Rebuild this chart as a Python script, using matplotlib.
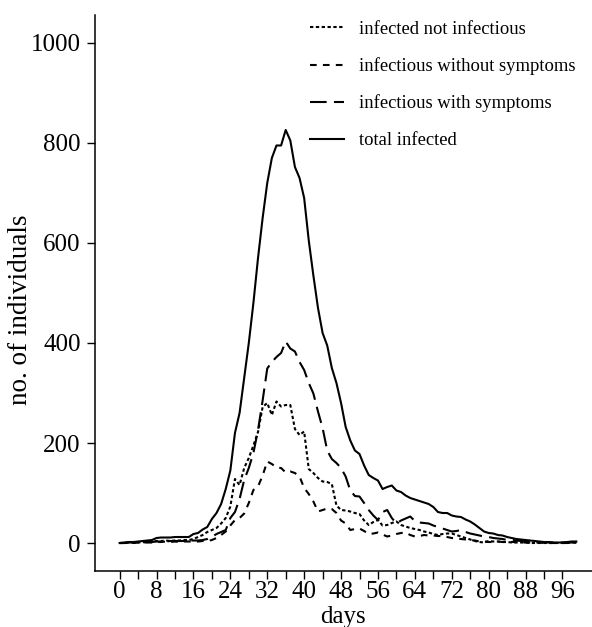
import matplotlib
matplotlib.use("Agg")
import matplotlib.pyplot as plt
import numpy as np

days = list(range(0, 100))

infected_not_infectious = [
    0, 0, 1, 1, 1, 2, 2, 3, 4, 4,
    5, 4, 5, 5, 6, 6, 8, 12, 16, 22,
    26, 30, 39, 50, 73, 128, 116, 150, 170, 195,
    222, 272, 280, 256, 283, 273, 276, 276, 228, 216,
    223, 148, 140, 130, 123, 122, 118, 75, 66, 65,
    63, 60, 58, 45, 36, 42, 46, 35, 36, 40,
    43, 36, 33, 30, 28, 26, 23, 21, 18, 16,
    18, 19, 19, 16, 13, 10, 7, 4, 2, 1,
    4, 3, 3, 2, 2, 1, 1, 1, 1, 0,
    0, 0, 0, 0, 0, 0, 0, 0, 1, 1,
]

infectious_without_symptoms = [
    0, 0, 0, 0, 1, 1, 1, 1, 2, 2,
    3, 2, 3, 2, 3, 3, 3, 3, 4, 4,
    6, 10, 16, 23, 35, 46, 50, 59, 80, 106,
    113, 135, 163, 158, 151, 150, 141, 143, 140, 133,
    110, 98, 83, 63, 66, 69, 68, 60, 45, 39,
    26, 28, 29, 24, 18, 19, 21, 17, 13, 15,
    18, 20, 21, 16, 13, 14, 16, 15, 15, 14,
    14, 12, 10, 9, 8, 7, 6, 5, 3, 3,
    2, 2, 3, 2, 2, 2, 2, 1, 1, 1,
    1, 1, 0, 0, 0, 0, 0, 0, 1, 1,
]

infectious_with_symptoms = [
    0, 0, 1, 1, 1, 1, 2, 2, 3, 3,
    3, 4, 4, 4, 4, 5, 5, 5, 6, 8,
    12, 18, 22, 26, 50, 62, 88, 126, 150, 180,
    226, 285, 349, 362, 372, 380, 403, 389, 383, 362,
    346, 320, 299, 263, 230, 185, 168, 160, 150, 133,
    105, 94, 93, 80, 66, 55, 46, 62, 66, 50,
    39, 45, 49, 53, 44, 41, 40, 39, 35, 32,
    29, 26, 23, 24, 26, 22, 19, 17, 15, 13,
    12, 10, 9, 8, 6, 6, 5, 4, 3, 3,
    2, 2, 1, 1, 1, 1, 1, 1, 1, 1,
]

total_infected = [
    0, 1, 2, 2, 3, 4, 5, 6, 10, 11,
    11, 11, 12, 12, 12, 12, 18, 20, 27, 32,
    48, 60, 78, 108, 145, 220, 260, 330, 400, 480,
    570, 650, 720, 770, 795, 795, 826, 805, 752, 730,
    690, 605, 535, 470, 420, 395, 350, 320, 280, 232,
    205, 185, 178, 155, 136, 130, 125, 108, 112, 115,
    105, 102, 95, 90, 87, 84, 81, 78, 72, 62,
    60, 60, 55, 53, 52, 47, 43, 37, 30, 23,
    20, 19, 16, 15, 12, 10, 8, 7, 6, 5,
    4, 3, 2, 2, 1, 1, 1, 2, 3, 3,
]

series_labels = ['infected not infectious', 'infectious without symptoms',
                 'infectious with symptoms', 'total infected']

xticks = list(range(0, 97, 4))
xticklabels = [str(t) if t % 8 == 0 else "" for t in xticks]
yticks = [0, 200, 400, 600, 800, 1000]

plt.rcParams['font.family'] = ['Liberation Serif', 'DejaVu Serif']

fig = plt.figure(figsize=(5.92, 6.27), dpi=100)
ax = fig.add_axes([0.160, 0.0893, 0.840, 0.8868])

lw = 1.5
l1, = ax.plot(days, infected_not_infectious, color='black', lw=lw,
              linestyle=(0, (1.6, 1.2)))
l2, = ax.plot(days, infectious_without_symptoms, color='black', lw=lw,
              linestyle=(0, (3.2, 3.0)))
l3, = ax.plot(days, infectious_with_symptoms, color='black', lw=lw,
              linestyle=(0, (8, 3.5)))
l4, = ax.plot(days, total_infected, color='black', lw=lw, linestyle='-')

ax.set_xlim(-5.4, 102.4)
ax.set_ylim(-56, 1056)
ax.set_xticks(xticks)
ax.set_xticklabels(xticklabels)
ax.set_yticks(yticks)
ax.tick_params(direction='out', length=6, width=1, labelsize=18)
ax.tick_params(axis='x', pad=1)
ax.tick_params(axis='y', pad=4)
ax.spines['top'].set_visible(False)
ax.spines['right'].set_visible(False)
ax.spines['left'].set_linewidth(1.1)
ax.spines['bottom'].set_linewidth(1.1)

ax.set_xlabel('days', fontsize=18, labelpad=2)
ax.set_ylabel('no. of individuals', fontsize=19.5)
ax.yaxis.set_label_coords(-0.125, 0.47)

leg = ax.legend([l1, l2, l3, l4], series_labels,
                loc='upper left', bbox_to_anchor=(0.40, 1.02),
                frameon=False, fontsize=13.4, handlelength=1.8,
                labelspacing=1.05, handletextpad=0.8)

fig.savefig('out.png', dpi=100)
